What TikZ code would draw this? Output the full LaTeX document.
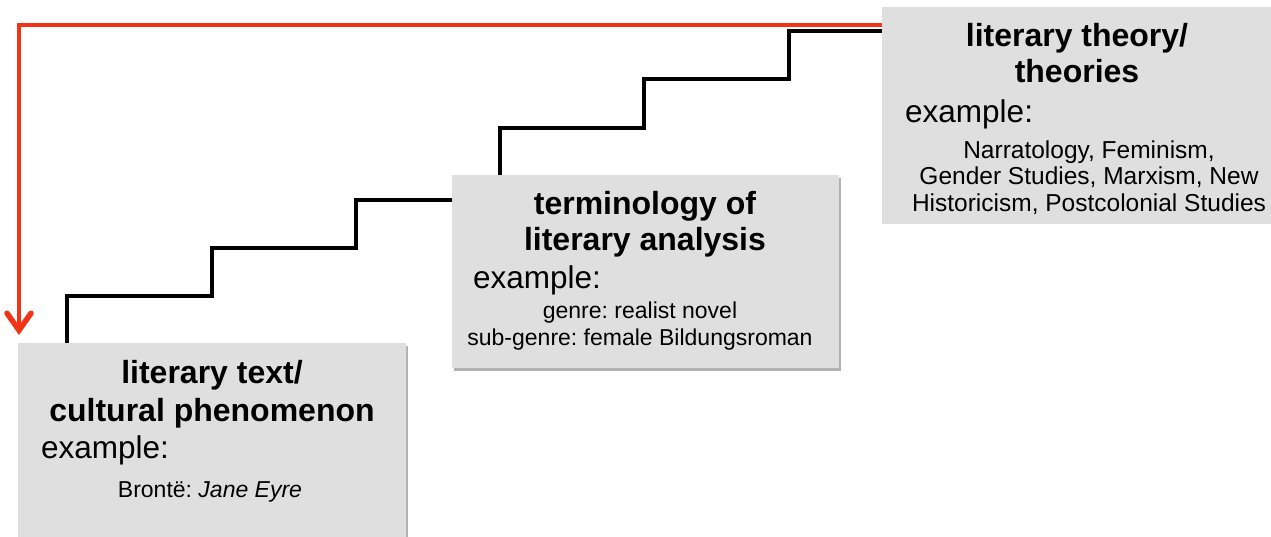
\documentclass[tikz,border=0pt]{standalone}
\usepackage{fontspec}
\setmainfont{Liberation Sans}
\usetikzlibrary{arrows.meta,shadows}
\definecolor{boxgray}{RGB}{223,223,223}
\definecolor{arrowred}{RGB}{242,52,22}
\tikzset{
  box/.style={fill=boxgray, draw=none, inner sep=0pt, anchor=north west},
  boxshadow/.style={drop shadow={shadow xshift=1.5pt, shadow yshift=-3pt, opacity=0.3, fill=black}},
  title/.style={anchor=base, inner sep=0pt, font=\bfseries\fontsize{32}{38}\selectfont},
  ex/.style={anchor=base west, inner sep=0pt, font=\fontsize{31.5}{38}\selectfont},
  body/.style={anchor=base, inner sep=0pt, font=\fontsize{23}{27}\selectfont},
  bodyb/.style={anchor=base, inner sep=0pt, font=\fontsize{24.5}{27}\selectfont},
  stair/.style={draw=black, line width=3.4pt, line join=miter},
  redline/.style={draw=arrowred, line width=3.4pt, -{Straight Barb[length=17pt,width=24pt,line width=5.5pt,line cap=round]}},
}
\begin{document}
\frenchspacing
\begin{tikzpicture}[x=1pt,y=-1pt]
\useasboundingbox (0,0) rectangle (1271,537);
% boxes
\node[box, boxshadow, minimum width=388pt, minimum height=200pt] (box1) at (18,343) {};
\node[box, boxshadow, minimum width=387pt, minimum height=193pt] (box2) at (452,175) {};
\node[box, minimum width=389pt, minimum height=217pt] (box3) at (882,7) {};
% staircases
\draw[stair] ([xshift=49pt]box1.north west) -- ++(0,-47) -- ++(145,0) -- ++(0,-48) -- ++(144,0) -- ++(0,-48) coordinate (s1) -- (s1 -| box2.west);
\draw[stair] ([xshift=48pt]box2.north west) -- ++(0,-47) -- ++(144,0) -- ++(0,-49) -- ++(145,0) -- ++(0,-48) coordinate (s2) -- (s2 -| box3.west);
% red arrow
\coordinate (rstart) at ([yshift=-18pt]box3.north west);
\coordinate (rend) at ([xshift=1pt,yshift=8pt]box1.north west);
\draw[redline] (rstart) -| (rend);
% box 1 text
\node[title] (t1a) at (212,383) {literary text/};
\node[title] (t1b) at (212,421) {cultural phenomenon};
\node[ex] (e1) at (41,458) {example:};
\node[body] (b1) at (210,497) {Brontë: \textit{Jane Eyre}};
% box 2 text
\node[title] (t2a) at (645,215) {terminology of};
\node[title] (t2b) at (645,251) {literary analysis};
\node[ex] (e2) at (473,288) {example:};
\node[body] (b2a) at (640,318) {genre: realist novel};
\node[body] (b2b) at (640,345) {sub-genre: female Bildungsroman};
% box 3 text
\node[title] (t3a) at (1077,47) {literary theory/};
\node[title] (t3b) at (1077,83) {theories};
\node[ex] (e3) at (905,123) {example:};
\node[bodyb] (b3a) at (1089,159) {Narratology, Feminism,};
\node[bodyb] (b3b) at (1089,185) {Gender Studies, Marxism, New};
\node[bodyb] (b3c) at (1089,212) {Historicism, Postcolonial Studies};
\end{tikzpicture}
\end{document}
